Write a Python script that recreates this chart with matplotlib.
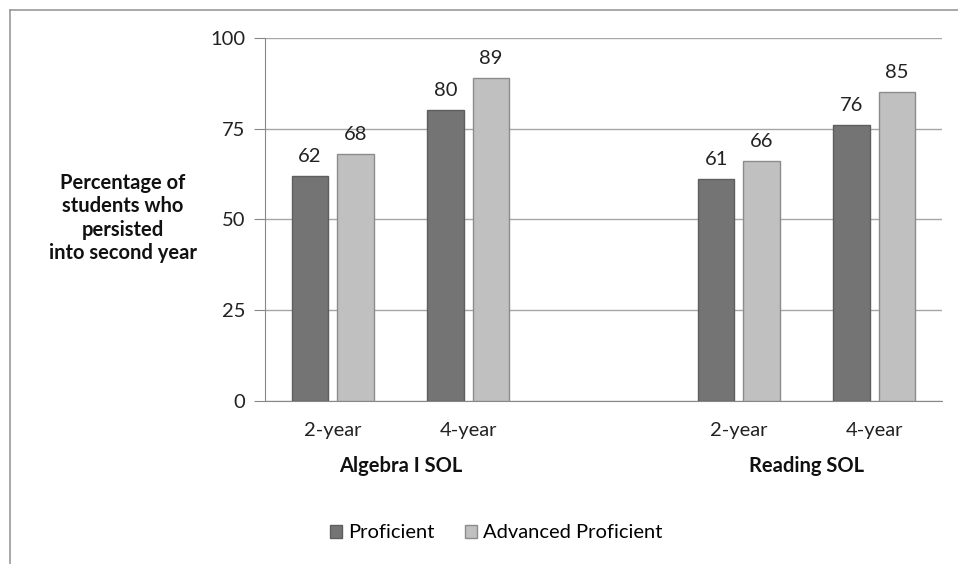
import matplotlib.pyplot as plt
from matplotlib.lines import Line2D
import numpy as np

plt.rcParams['font.family'] = ['Lato', 'DejaVu Sans']

# Data
categories = ["2-year", "4-year", "", "2-year", "4-year"]
proficient = [62, 80, np.nan, 61, 76]
advanced = [68, 89, np.nan, 66, 85]
groups = ["Algebra I SOL", "Reading SOL"]
group_pos = [0.5, 3.5]
yticks = [0, 25, 50, 75, 100]

dark = "#747474"
light = "#c0c0c0"

fig = plt.figure(figsize=(9.58, 5.64), dpi=100)
ax = fig.add_axes([265 / 958, 1 - 401 / 564, 677 / 958, 363.3 / 564])

x = np.arange(len(categories))
off = 0.168
w = 0.27
b1 = ax.bar(x - off, proficient, w, color=dark, edgecolor="#5e5e5e", linewidth=1, label="Proficient", zorder=3)
b2 = ax.bar(x + off, advanced, w, color=light, edgecolor="#8c8c8c", linewidth=1, label="Advanced Proficient", zorder=3)

for bars, vals in [(b1, proficient), (b2, advanced)]:
    for rect, v in zip(bars, vals):
        if np.isnan(v):
            continue
        ax.annotate(f"{v:.0f}", (rect.get_x() + rect.get_width() / 2, v),
                    xytext=(0, 8), textcoords="offset points",
                    ha="center", va="bottom", fontsize=14.5, color="#222222")

ax.set_xlim(-0.5, 4.5)
ax.set_ylim(0, 100)
ax.set_yticks(yticks)
ax.yaxis.grid(True, color="#a6a6a6", linewidth=1)
ax.set_axisbelow(True)
ax.tick_params(axis="y", length=8, color="#888888", labelsize=14.5, pad=6, labelcolor="#222222")
ax.tick_params(axis="x", length=0, labelsize=14.5, pad=15, labelcolor="#222222")
ax.set_xticks(x)
ax.set_xticklabels(categories)
for s in ["top", "right"]:
    ax.spines[s].set_visible(False)
ax.spines["left"].set_color("#888888")
ax.spines["bottom"].set_color("#888888")

for name, gp in zip(groups, group_pos):
    ax.text(gp, -0.18, name, transform=ax.get_xaxis_transform(),
            ha="center", va="center", fontsize=14.5, fontweight="bold", color="#111111")

fig.text(123 / 958, 1 - 218 / 564, "Percentage of\nstudents who\npersisted\ninto second year",
         ha="center", va="center", fontsize=14.5, fontweight="bold", linespacing=1.22, color="#111111")

fig.legend(handles=[b1, b2], loc="center", bbox_to_anchor=(496 / 958, 1 - 533 / 564),
           ncol=2, frameon=False, fontsize=14.5, handlelength=0.6, handleheight=0.6,
           handletextpad=0.3, columnspacing=1.5)

# outer frame
fig.add_artist(Line2D([10 / 958, 10 / 958], [0, 1 - 9.5 / 564], transform=fig.transFigure, color="#9a9a9a", linewidth=1.2))
fig.add_artist(Line2D([10 / 958, 1], [1 - 9.5 / 564, 1 - 9.5 / 564], transform=fig.transFigure, color="#9a9a9a", linewidth=1.2))

fig.savefig("out.png", dpi=100)
